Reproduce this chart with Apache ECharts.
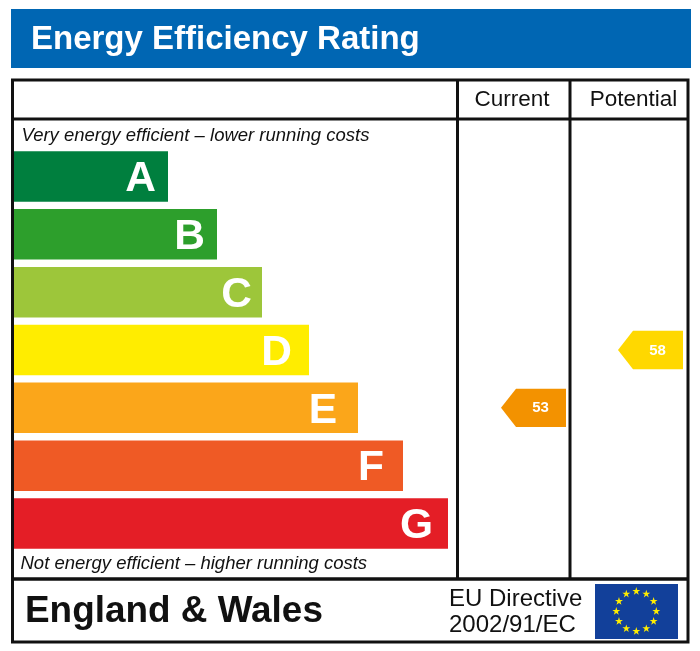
<!DOCTYPE html>
<html><head><meta charset="utf-8">
<style>html,body{margin:0;padding:0;background:#fff}#c{width:700px;height:651px}</style>
<script src="https://cdn.jsdelivr.net/npm/echarts@6/dist/echarts.min.js"></script>
</head><body><div id="c"></div>
<script>
var bands = ['A','B','C','D','E','F','G'];
var bandLengths = [154,203,248,295,344,389,434];
var columns = ['Current','Potential'];
var ratingBands = ['E','D'];
var ratingValues = [53,58];
var bandColors = ['#007f3e','#2d9f2c','#9dc63a','#ffed00','#fba61a','#ef5a25','#e41e26'];
var ratingColors = ['#f39200','#ffd800'];
var letterInsets = [12,12,10,17,21,19,15];
var FONT = '"Liberation Sans", Arial, sans-serif';

function star(cx, cy, R) {
  var p = [];
  for (var i = 0; i < 10; i++) {
    var r = i % 2 ? R * 0.382 : R, a = -Math.PI / 2 + i * Math.PI / 5;
    p.push([cx + r * Math.cos(a), cy + r * Math.sin(a)]);
  }
  return p;
}
function line(x1, y1, x2, y2, w) {
  return {type:'line', z:10, shape:{x1:x1,y1:y1,x2:x2,y2:y2}, style:{stroke:'#111',lineWidth:w||3}};
}
function text(x, y, s, font, fill, align) {
  return {type:'text', z:11, x:x, y:y, style:{text:s, font:font, fill:fill||'#111', textAlign:align||'left', textVerticalAlign:'middle'}};
}
var g = [
  {type:'rect', z:1, shape:{x:11,y:9,width:680,height:59}, style:{fill:'#0066b3'}},
  text(31, 39.5, 'Energy Efficiency Rating', 'bold 33px '+FONT, '#fff'),
  {type:'rect', z:9, shape:{x:12.5,y:80,width:675.5,height:562}, style:{fill:'none',stroke:'#111',lineWidth:3}},
  line(12,119,688,119), line(12,579,688,579,3.5), line(457.5,80,457.5,579), line(570,80,570,579),
  text(21.5, 135.5, 'Very energy efficient \u2013 lower running costs', 'italic 18.5px '+FONT),
  text(20.5, 563.5, 'Not energy efficient \u2013 higher running costs', 'italic 18.5px '+FONT),
  text(25, 611.5, 'England & Wales', 'bold 36.9px '+FONT),
  text(449, 599.5, 'EU Directive', '24px '+FONT),
  text(449, 625.5, '2002/91/EC', '24px '+FONT),
  {type:'rect', z:11, shape:{x:595,y:584,width:83,height:55}, style:{fill:'#12409a'}}
];
for (var i = 0; i < 12; i++) {
  var a = i * Math.PI / 6;
  g.push({type:'polygon', z:12, shape:{points:star(636.3 + 20 * Math.sin(a), 611.3 - 20 * Math.cos(a), 4.2)}, style:{fill:'#ffed00'}});
}

var chart = echarts.init(document.getElementById('c'), null, {renderer:'canvas'});
chart.setOption({
  animation:false,
  textStyle:{fontFamily:FONT},
  graphic:g,
  grid:[
    {left:14, top:147.6, width:434, height:404.8},
    {left:449, top:147.6, width:234, height:404.8}
  ],
  xAxis:[
    {gridIndex:0, type:'value', min:0, max:434, show:false},
    {gridIndex:1, type:'category', data:columns, position:'top',
     axisLine:{show:false}, axisTick:{show:false}, splitLine:{show:false},
     axisLabel:{interval:0, margin:36, formatter:function(v){return '{'+v+'|'+v+'}';},
       rich:{Current:{fontSize:22.5,color:'#111',padding:[0,0,0,9]},
             Potential:{fontSize:22.5,color:'#111',padding:[0,0,0,18]}}}}
  ],
  yAxis:[
    {gridIndex:0, type:'category', data:bands, inverse:true, show:false},
    {gridIndex:1, type:'category', data:bands, inverse:true, show:false}
  ],
  series:[
    {type:'bar', xAxisIndex:0, yAxisIndex:0, barWidth:50.5, silent:true,
     data:bandLengths.map(function(v,i){return {value:v,
       itemStyle:{color:bandColors[i]},
       label:{show:true, position:'insideRight', distance:letterInsets[i], offset:[0,3], formatter:bands[i],
         color:'#fff', fontWeight:'bold', fontSize:42.5, fontFamily:FONT}};})},
    {type:'custom', xAxisIndex:1, yAxisIndex:1, silent:true,
     data:ratingValues.map(function(v,i){return [columns[i], ratingBands[i], v];}),
     encode:{x:0,y:1},
     renderItem:function(params, api){
       var c = api.coord([api.value(0), api.value(1)]);
       var w = api.size([1,0])[0];
       var right = c[0] + w/2, left = right - 65, h = 19.2, tip = 15;
       var col = ratingColors[params.dataIndex];
       return {type:'group', children:[
         {type:'polygon', shape:{points:[[left,c[1]],[left+tip,c[1]-h],[right,c[1]-h],[right,c[1]+h],[left+tip,c[1]+h]]}, style:{fill:col}},
         {type:'text', x:right-25.5, y:c[1]+0.5, style:{text:String(api.value(2)), fill:'#fff', font:'bold 15px '+FONT, textAlign:'center', textVerticalAlign:'middle'}}
       ]};
     }}
  ]
});
</script></body></html>
